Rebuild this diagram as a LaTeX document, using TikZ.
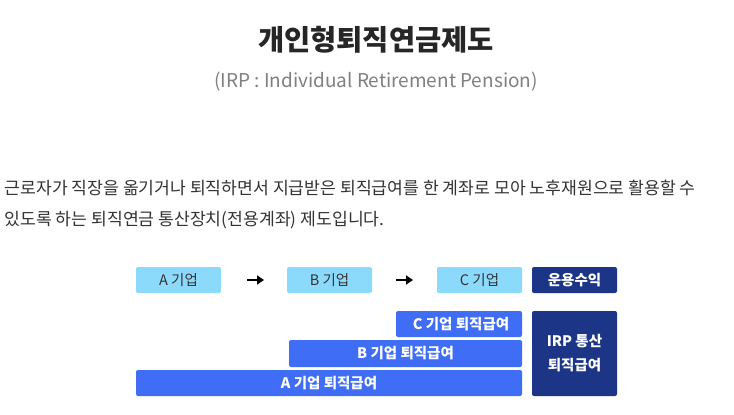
\documentclass[tikz,border=0pt]{standalone}
\usepackage{fontspec}
\setmainfont{Noto Sans CJK KR}
\usetikzlibrary{arrows.meta}
\definecolor{light}{HTML}{8CDAFB}
\definecolor{mid}{HTML}{3F6DF5}
\definecolor{dark}{HTML}{1C3586}
\definecolor{txt}{HTML}{333333}
\tikzset{
 cbox/.style={fill=light,rounded corners=2pt,text=txt,font=\fontsize{14.5}{17}\selectfont},
 bbox/.style={fill=mid,rounded corners=2pt,text=white,font=\fontsize{14.5}{17}\selectfont\bfseries},
 dbox/.style={fill=dark,rounded corners=2pt,text=white,font=\fontsize{14.5}{17}\selectfont\bfseries},
 arr/.style={-{Triangle[length=7pt,width=9pt]},line width=1.8pt}
}
\begin{document}
\begin{tikzpicture}[x=1pt,y=-1pt]
\useasboundingbox[fill=white] (0,0) rectangle (734,415);
\node[font=\fontsize{28.5}{32}\selectfont\bfseries,text=black!85] (title) at (376,40) {개인형퇴직연금제도};
\node[font=\fontsize{19}{22}\selectfont,text=black!50] (sub) at (376,82) {(IRP : Individual Retirement Pension)};
\node[font=\fontsize{17.2}{20}\selectfont,text=txt,anchor=west] (p1) at (1,188) {근로자가 직장을 옮기거나 퇴직하면서 지급받은 퇴직급여를 한 계좌로 모아 노후재원으로 활용할 수};
\node[font=\fontsize{17.2}{20}\selectfont,text=txt,anchor=west] (p2) at (1,220) {있도록 하는 퇴직연금 통산장치(전용계좌) 제도입니다.};
\path[cbox] (136,267) rectangle (221,293) node[midway] (a) {A 기업};
\path[cbox] (287,267) rectangle (372,293) node[midway] (b) {B 기업};
\path[cbox] (437,267) rectangle (522,293) node[midway] (c) {C 기업};
\path[dbox] (532,267) rectangle (617,293) node[midway] (r) {운용수익};
\coordinate (a1) at (247,280); \coordinate (a2) at (264,280);
\coordinate (b1) at (396,280); \coordinate (b2) at (413,280);
\draw[arr] (a1) -- (a2);
\draw[arr] (b1) -- (b2);
\path[bbox] (396,311) rectangle (522,337) node[midway,xshift=2pt] (cr) {C 기업 퇴직급여};
\path[bbox] (289,340) rectangle (522,367) node[midway] (br) {B 기업 퇴직급여};
\path[bbox] (136,370) rectangle (522,396) node[midway] (ar) {A 기업 퇴직급여};
\path[dbox] (532,311) rectangle (617,396) node[midway,align=center,font=\fontsize{14.5}{24}\selectfont\bfseries] (irp) {IRP 통산\\퇴직급여};
\end{tikzpicture}
\end{document}
